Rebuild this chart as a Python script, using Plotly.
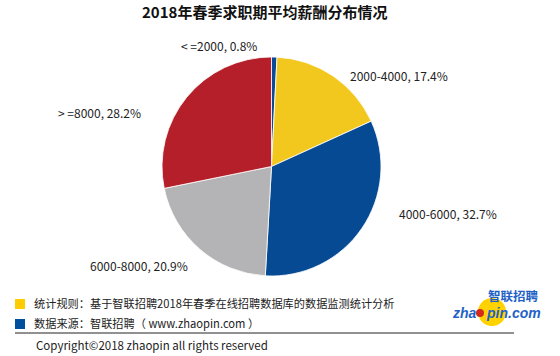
import plotly.graph_objects as go

W, H = 560, 356

categories = ["<=2000", "2000-4000", "4000-6000", "6000-8000", ">=8000"]
shares = [0.8, 17.4, 32.7, 20.9, 28.2]
slice_colors = ["#0A4A96", "#F2C81F", "#074A94", "#B4B4B6", "#B41F29"]
display_names = ["< =2000", "2000-4000", "4000-6000", "6000-8000", "> =8000"]

title_text = "2018年春季求职期平均薪酬分布情况"
note_rule = "统计规则：基于智联招聘2018年春季在线招聘数据库的数据监测统计分析"
note_source = "数据来源：智联招聘（ www.zhaopin.com ）"
copyright_text = "Copyright©2018 zhaopin all rights reserved"

# label placement (pixel centers) - layout only
label_pos = [(219, 46), (399, 76), (448, 213), (139, 265), (99, 113)]

FONT = "Noto Sans CJK SC"

def px(x):
    return x / W

def py(y):
    return 1 - y / H

fig = go.Figure()
fig.add_trace(go.Pie(
    labels=categories,
    values=shares,
    sort=False,
    direction="clockwise",
    rotation=0,
    textinfo="none",
    hoverinfo="label+value",
    marker=dict(colors=slice_colors, line=dict(color="white", width=0.8)),
    domain=dict(x=[px(162), px(381)], y=[py(276), py(57)]),
    showlegend=False,
))

annotations = []
for name, v, (lx, ly) in zip(display_names, shares, label_pos):
    annotations.append(dict(
        text=f"{name}, {v:.1f}%", x=px(lx), y=py(ly), xref="paper", yref="paper",
        showarrow=False, xanchor="center", yanchor="middle",
        font=dict(family=FONT, size=12, color="#222222"),
    ))

annotations.append(dict(
    text=f"<b>{title_text}</b>", x=px(264), y=py(12), xref="paper", yref="paper",
    showarrow=False, xanchor="center", yanchor="middle",
    font=dict(family=FONT, size=15, color="#111111"),
))
annotations.append(dict(
    text=note_rule, x=px(32), y=py(303), xref="paper", yref="paper",
    showarrow=False, xanchor="left", yanchor="middle",
    font=dict(family=FONT, size=11.2, color="#222222"),
))
annotations.append(dict(
    text=note_source, x=px(32), y=py(323), xref="paper", yref="paper",
    showarrow=False, xanchor="left", yanchor="middle",
    font=dict(family=FONT, size=11.2, color="#222222"),
))
annotations.append(dict(
    text=copyright_text, x=px(34), y=py(345), xref="paper", yref="paper",
    showarrow=False, xanchor="left", yanchor="middle",
    font=dict(family=FONT, size=11.5, color="#222222"),
))
# logo texts
annotations.append(dict(
    text="<b>智联招聘</b>", x=px(540), y=py(295), xref="paper", yref="paper",
    showarrow=False, xanchor="right", yanchor="middle",
    font=dict(family=FONT, size=12.5, color="#1F62C6"),
    borderpad=0,
))
annotations.append(dict(
    text="<b><i>zha</i></b>", x=px(478), y=py(313), xref="paper", yref="paper",
    showarrow=False, xanchor="right", yanchor="middle",
    font=dict(family="Liberation Sans", size=14, color="#1F62C6"),
    borderpad=0,
))
annotations.append(dict(
    text="<b><i>pin.com</i></b>", x=px(485), y=py(313), xref="paper", yref="paper",
    showarrow=False, xanchor="left", yanchor="middle",
    font=dict(family="Liberation Sans", size=14, color="#1F62C6"),
    borderpad=0,
))

shapes = [
    dict(type="rect", xref="paper", yref="paper", x0=px(15), x1=px(25), y0=py(309), y1=py(299),
         fillcolor="#FFCC00", line=dict(width=0)),
    dict(type="rect", xref="paper", yref="paper", x0=px(15), x1=px(25), y0=py(329), y1=py(319),
         fillcolor="#00509E", line=dict(width=0)),
    dict(type="line", xref="paper", yref="paper", x0=px(15), x1=px(514), y0=py(333), y1=py(333),
         line=dict(color="#222222", width=1)),
    dict(type="circle", xref="paper", yref="paper", x0=px(478), x1=px(506), y0=py(326), y1=py(298),
         fillcolor="#FFD200", line=dict(width=0), layer="below"),
    dict(type="circle", xref="paper", yref="paper", x0=px(476), x1=px(484), y0=py(317), y1=py(309),
         fillcolor="#D42A1E", line=dict(width=0)),
]

fig.update_layout(
    width=W, height=H,
    margin=dict(l=0, r=0, t=0, b=0),
    paper_bgcolor="white", plot_bgcolor="white",
    annotations=annotations, shapes=shapes,
)

fig.write_html("out.html", config={"displayModeBar": False},
               post_script="document.body.style.margin='0';document.body.style.overflow='hidden';")
